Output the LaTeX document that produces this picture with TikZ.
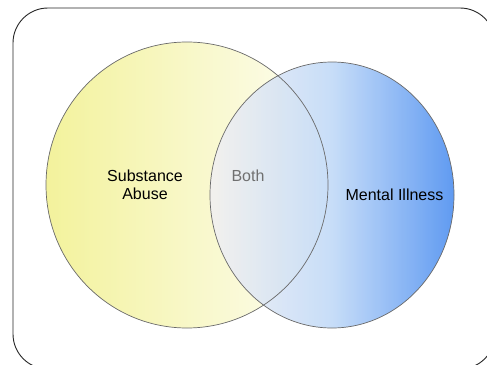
\documentclass[tikz,border=0pt]{standalone}
\usepackage{fontspec}
\setmainfont{Liberation Sans}
\usetikzlibrary{shapes.geometric}
\definecolor{yelL}{RGB}{243,242,156}
\definecolor{yelR}{RGB}{253,253,243}
\definecolor{bluL}{RGB}{242,240,242}
\definecolor{bluM}{RGB}{192,217,248}
\definecolor{bluR}{RGB}{74,141,240}
\definecolor{rim}{RGB}{105,105,105}
\definecolor{bothgray}{RGB}{112,112,112}
\tikzset{
  frame/.style={draw=black!85, line width=0.9pt, rounded corners=35pt, inner sep=0},
  venn/.style={ellipse, inner sep=0},
  rimline/.style={draw=rim, line width=0.7pt},
  txt/.style={font=\fontsize{16}{18.5}\selectfont, align=center, text=black, inner sep=0},
}
\begin{document}
\begin{tikzpicture}[x=1pt,y=-1pt]
\useasboundingbox (0,0) rectangle (487,364);
\clip (0,0) rectangle (487,364);
\fill[white] (0,0) rectangle (487,364);
\node[frame, minimum width=482pt, minimum height=361pt] (box) at (254,188.5) {};
\node[venn, minimum width=282pt, minimum height=286pt,
      left color=yelL, right color=yelR] (sa) at (187,185) {};
\node[venn, minimum width=244pt, minimum height=266pt,
      left color=bluL, right color=bluR, middle color=bluM, fill opacity=0.88] (mi) at (332,195) {};
\draw[rimline] (sa.center) ellipse [x radius=141, y radius=143];
\draw[rimline] (mi.center) ellipse [x radius=122, y radius=133];
\node[txt] (satxt) at (145,185) {Substance\\Abuse};
\node[txt, text=bothgray] (both) at (248,176) {Both};
\node[txt] (mitxt) at (394.5,195) {Mental Illness};
\end{tikzpicture}
\end{document}
